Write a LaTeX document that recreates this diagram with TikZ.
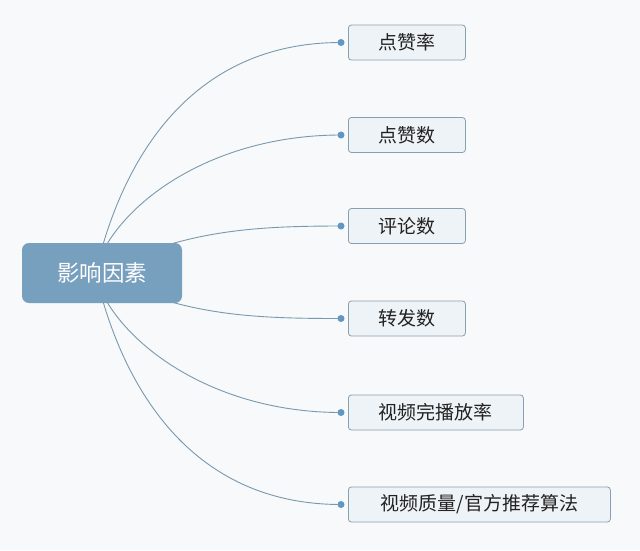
\documentclass[tikz,border=0pt]{standalone}
\usepackage{fontspec}
\setmainfont{Noto Sans CJK SC}
\definecolor{bg}{HTML}{F8F9FA}
\definecolor{mainfill}{HTML}{779FBE}
\definecolor{childfill}{HTML}{EEF3F7}
\definecolor{childdraw}{HTML}{8A9FB0}
\definecolor{linec}{HTML}{7A99AE}
\definecolor{dotc}{HTML}{5E97C6}
\definecolor{txt}{HTML}{222222}
\begin{document}
\begin{tikzpicture}[x=1pt,y=-1pt,
  mainbox/.style={rectangle,rounded corners=7pt,fill=mainfill,draw=none,text=white,font=\fontsize{22.5}{26}\selectfont,minimum width=160pt,minimum height=60pt,inner sep=0pt},
  childbox/.style={rectangle,rounded corners=3pt,fill=childfill,draw=childdraw,line width=0.8pt,text=txt,font=\fontsize{19}{23}\selectfont,minimum height=35pt,inner sep=0pt,anchor=west},
  dotn/.style={circle,fill=dotc,inner sep=0pt,minimum size=7pt},
  conn/.style={draw=linec,line width=0.9pt}]
\fill[bg] (0,0) rectangle (640,550);
\useasboundingbox (0,0) rectangle (640,550);

\node[childbox,minimum width=117pt] (c1) at (348,42.5) {点赞率};
\node[childbox,minimum width=117pt] (c2) at (348,135) {点赞数};
\node[childbox,minimum width=117pt] (c3) at (348,226) {评论数};
\node[childbox,minimum width=117pt] (c4) at (348,318.5) {转发数};
\node[childbox,minimum width=175pt] (c5) at (348,412.5) {视频完播放率};
\node[childbox,minimum width=262pt] (c6) at (348,504.5) {视频质量/官方推荐算法};

\node[dotn] (d1) at (341,42.5) {};
\node[dotn] (d2) at (341,135) {};
\node[dotn] (d3) at (341,226) {};
\node[dotn] (d4) at (341,318.5) {};
\node[dotn] (d5) at (341,412.5) {};
\node[dotn] (d6) at (341,504.5) {};

\coordinate (s1) at (100,255);
\coordinate (s2) at (101,255);
\coordinate (s3) at (130,258);
\coordinate (s4) at (130,288);
\coordinate (s5) at (101,291);
\coordinate (s6) at (100,291);
\draw[conn] (s1) .. controls (130,145) and (200,42.5) .. (d1.center);
\draw[conn] (s2) .. controls (130,195) and (220,135) .. (d2.center);
\draw[conn] (s3) .. controls (200,230) and (260,226) .. (d3.center);
\draw[conn] (s4) .. controls (200,316) and (260,318.5) .. (d4.center);
\draw[conn] (s5) .. controls (130,351) and (220,412.5) .. (d5.center);
\draw[conn] (s6) .. controls (130,401) and (200,504.5) .. (d6.center);

\node[mainbox] (main) at (102,273) {影响因素};
\end{tikzpicture}
\end{document}
